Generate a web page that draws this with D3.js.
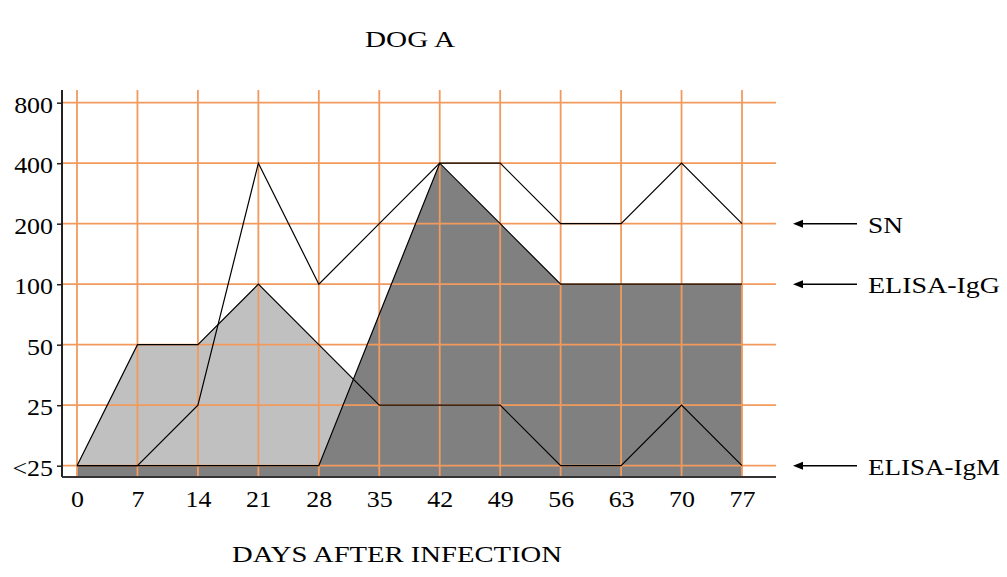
<!DOCTYPE html>
<html>
<head>
<meta charset="utf-8">
<script src="https://cdn.jsdelivr.net/npm/d3@7"></script>
<style>
  html, body { margin: 0; padding: 0; background: #fff; }
  svg { display: block; }
  text { font-family: "Liberation Serif", "Times New Roman", serif; fill: #000; }
</style>
</head>
<body>
<svg id="chart" width="1007" height="577"></svg>
<script>
// ---- data ----
const days = [0, 7, 14, 21, 28, 35, 42, 49, 56, 63, 70, 77];
const levels = ["<25", "25", "50", "100", "200", "400", "800"];
const snValues   = ["<25", "<25", "25", "400", "100", "200", "400", "400", "200", "200", "400", "200"];
const iggValues  = ["<25", "<25", "<25", "<25", "<25", null, "400", "200", "100", "100", "100", "100"];
const igmValues  = ["<25", "50", "50", "100", "50", "25", "25", "25", "<25", "<25", "25", "<25"];
const legendLabels = ["SN", "ELISA-IgG", "ELISA-IgM"];
const legendLevels = ["200", "100", "<25"];
const titleText = "DOG A";
const xTitleText = "DAYS AFTER INFECTION";

// ---- layout ----
const svg = d3.select("#chart");
const axisX0 = 62, axisX1 = 776, axisYTop = 90, axisYBottom = 477;
const x = d3.scaleLinear().domain([0, 77]).range([77, 742]);
const y = d3.scalePoint().domain(levels).range([465.7, 102.7]).padding(0);

const gridColor = "#F29A5E";

const rows = (vals) => days.map((d, i) => ({ day: d, v: vals[i] })).filter(r => r.v !== null);

// fills
const area = d3.area()
  .x(d => x(d.day))
  .y0(axisYBottom)
  .y1(d => y(d.v));

svg.append("path").datum(rows(igmValues)).attr("d", area).attr("fill", "#C0C0C0");
svg.append("path").datum(rows(iggValues)).attr("d", area).attr("fill", "#808080");

// grid
const grid = svg.append("g");
grid.selectAll("line.v").data(days).join("line")
  .attr("x1", d => x(d)).attr("x2", d => x(d))
  .attr("y1", axisYTop).attr("y2", axisYBottom)
  .attr("stroke", gridColor).attr("stroke-width", 1.8);
grid.selectAll("line.h").data(levels).join("line")
  .attr("x1", axisX0).attr("x2", axisX1)
  .attr("y1", d => y(d)).attr("y2", d => y(d))
  .attr("stroke", gridColor).attr("stroke-width", 1.8);

// series lines
const line = d3.line().x(d => x(d.day)).y(d => y(d.v));
[igmValues, iggValues, snValues].forEach(vals => {
  svg.append("path").datum(rows(vals)).attr("d", line)
    .attr("fill", "none").attr("stroke", "#000").attr("stroke-width", 1.2)
    .attr("stroke-linejoin", "miter");
});

// axes lines
svg.append("line").attr("x1", axisX0).attr("x2", axisX0).attr("y1", axisYTop).attr("y2", axisYBottom)
  .attr("stroke", "#222").attr("stroke-width", 2);
svg.append("line").attr("x1", axisX0).attr("x2", axisX1).attr("y1", axisYBottom).attr("y2", axisYBottom)
  .attr("stroke", "#333").attr("stroke-width", 2);

// y axis
const yAxis = svg.append("g").attr("transform", `translate(${axisX0},0)`)
  .call(d3.axisLeft(y).tickSize(5).tickPadding(4));
yAxis.select(".domain").remove();
yAxis.selectAll(".tick line").attr("stroke", "#222").attr("stroke-width", 1.5);
yAxis.selectAll(".tick text").attr("font-size", 24).attr("dy", "0.4em")
  .attr("font-family", "'Liberation Serif', 'Times New Roman', serif").attr("fill", "#000");

// x axis
const xAxis = svg.append("g").attr("transform", `translate(0,${axisYBottom})`)
  .call(d3.axisBottom(x).tickValues(days).tickFormat(d3.format("d")).tickSize(0).tickPadding(13));
xAxis.select(".domain").remove();
xAxis.selectAll(".tick text").attr("font-size", 24)
  .attr("font-family", "'Liberation Serif', 'Times New Roman', serif").attr("fill", "#000");

// widen tick labels slightly to match the reference glyph proportions
svg.selectAll(".tick text").each(function () {
  const w = this.getComputedTextLength();
  d3.select(this).attr("textLength", w * 1.08).attr("lengthAdjust", "spacingAndGlyphs");
});

// titles
svg.append("text").attr("x", 410).attr("y", 47).attr("text-anchor", "middle")
  .attr("font-size", 24).attr("textLength", 90).attr("lengthAdjust", "spacingAndGlyphs")
  .text(titleText);
svg.append("text").attr("x", 397).attr("y", 562).attr("text-anchor", "middle")
  .attr("font-size", 24).attr("textLength", 330).attr("lengthAdjust", "spacingAndGlyphs")
  .text(xTitleText);

// legend arrows
const legendWidths = [35, 132, 132];
const lg = svg.append("g");
legendLabels.forEach((lab, i) => {
  const yy = y(legendLevels[i]);
  lg.append("line").attr("x1", 799).attr("x2", 857).attr("y1", yy).attr("y2", yy)
    .attr("stroke", "#000").attr("stroke-width", 1.5);
  lg.append("path").attr("d", `M793,${yy} L803,${yy - 4} L803,${yy + 4} Z`).attr("fill", "#000");
  lg.append("text").attr("x", 868).attr("y", yy + 9).attr("font-size", 24)
    .attr("textLength", legendWidths[i]).attr("lengthAdjust", "spacingAndGlyphs")
    .text(lab);
});
</script>
</body>
</html>
